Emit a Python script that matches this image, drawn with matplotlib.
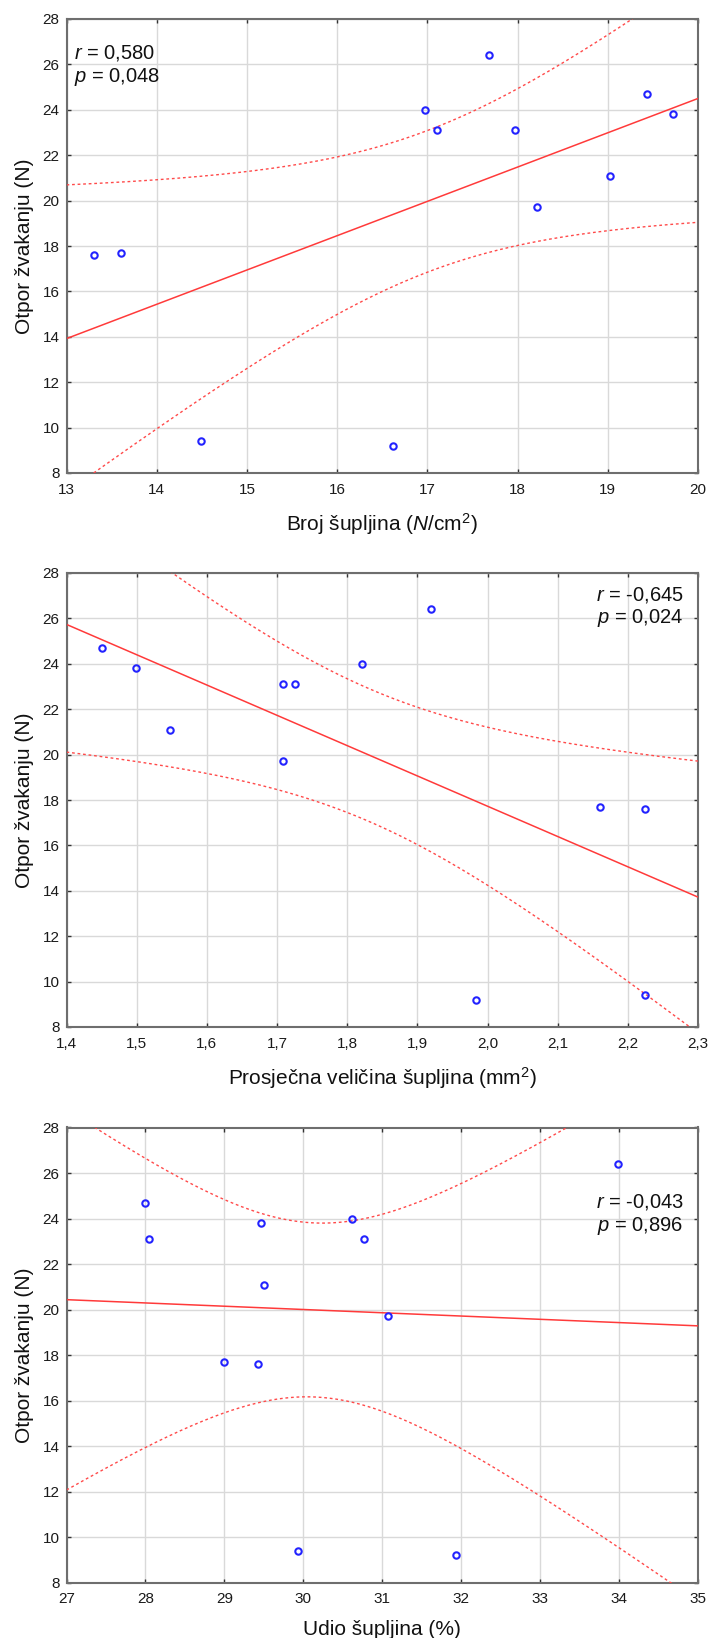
import numpy as np
import matplotlib
matplotlib.use("Agg")
import matplotlib.pyplot as plt
from matplotlib.ticker import FuncFormatter, MultipleLocator

plt.rcParams['font.family'] = ['Liberation Sans', 'DejaVu Sans']
plt.rcParams['mathtext.fontset'] = 'custom'
plt.rcParams['mathtext.rm'] = 'Liberation Sans'
plt.rcParams['mathtext.it'] = 'Liberation Sans:italic'

# ---- data ----
otpor = [17.6, 17.7, 9.4, 9.2, 24.0, 23.1, 26.4, 23.1, 19.7, 21.1, 24.7, 23.8]
broj = [13.30, 13.60, 14.49, 16.62, 16.97, 17.11, 17.68, 17.97, 18.22, 19.03, 19.43, 19.72]
velicina = [2.225, 2.160, 2.225, 1.983, 1.821, 1.708, 1.919, 1.725, 1.708, 1.547, 1.451, 1.499]
udio = [29.42, 28.99, 29.93, 31.94, 30.62, 28.04, 33.99, 30.77, 31.07, 29.50, 27.99, 29.46]

xlabels = ["Broj šupljina ($\\mathit{N}$/cm$^2$)",
           "Prosječna veličina šupljina (mm$^2$)",
           "Udio šupljina (%)"]
ylabel = "Otpor žvakanju (N)"
stats_r = ["0,580", "-0,645", "-0,043"]
stats_p = ["0,048", "0,024", "0,896"]
xlims = [(13, 20), (1.4, 2.3), (27, 35)]
xsteps = [1, 0.1, 1]
xdecimals = [0, 1, 0]
ylim = (8, 28)
t_crit = 2.228  # t(0.975, df=10)

fig = plt.figure(figsize=(7.08, 16.38), dpi=100)
positions = [
    (66.5, 19, 698, 473),
    (66.5, 573, 698, 1027),
    (66.5, 1127.5, 698, 1582.7),
]
W, H = 708, 1638
ann = [
    dict(x=0.012, y1=0.912, y2=0.862, ha='left'),
    dict(x=0.977, y1=0.9405, y2=0.889, ha='right'),
    dict(x=0.977, y1=0.824, y2=0.7725, ha='right'),
]
xs_all = [broj, velicina, udio]

for i in range(3):
    l, t, r, b = positions[i]
    ax = fig.add_axes([l / W, 1 - b / H, (r - l) / W, (b - t) / H])
    x = np.array(xs_all[i])
    y = np.array(otpor)
    n = len(x)
    slope, icpt = np.polyfit(x, y, 1)
    xg = np.linspace(xlims[i][0], xlims[i][1], 300)
    yhat = icpt + slope * xg
    resid = y - (icpt + slope * x)
    s = np.sqrt(np.sum(resid ** 2) / (n - 2))
    sxx = np.sum((x - x.mean()) ** 2)
    half = t_crit * s * np.sqrt(1 / n + (xg - x.mean()) ** 2 / sxx)

    ax.plot(xg, yhat, color='#ff3a3a', lw=1.1, zorder=3)
    ax.plot(xg, yhat + half, color='#ff4a4a', lw=1.0, ls=(0, (2, 2)), zorder=3)
    ax.plot(xg, yhat - half, color='#ff4a4a', lw=1.0, ls=(0, (2, 2)), zorder=3)
    ax.plot(x, y, 'o', mfc='none', mec='#2323ff', mew=1.5, ms=4.6, zorder=4)

    ax.set_xlim(*xlims[i])
    ax.set_ylim(*ylim)
    ax.xaxis.set_major_locator(MultipleLocator(xsteps[i]))
    ax.yaxis.set_major_locator(MultipleLocator(2))
    dec = xdecimals[i]
    ax.xaxis.set_major_formatter(FuncFormatter(lambda v, p, d=dec: f"{v:.{d}f}".replace('.', ',')))
    ax.yaxis.set_major_formatter(FuncFormatter(lambda v, p: f"{v:.0f}"))
    ax.grid(True, color='#d9d9d9', lw=1.0, zorder=0)
    ax.set_axisbelow(True)
    for sp in ax.spines.values():
        sp.set_color('#6e6e6e')
        sp.set_linewidth(1.5)
    ax.tick_params(axis='both', direction='in', length=3, width=1, color='#333333',
                   top=True, right=True, labelsize=11, labelcolor='#1a1a1a')
    ax.tick_params(axis='x', pad=7)
    ax.tick_params(axis='y', pad=5)
    ax.set_xlabel(xlabels[i], fontsize=15, labelpad=10, color='#111111')
    ax.set_ylabel(ylabel, fontsize=15, labelpad=6, color='#111111')

    a = ann[i]
    ax.text(a['x'], a['y1'], "$r$ = " + stats_r[i], transform=ax.transAxes,
            fontsize=14.5, ha=a['ha'], va='baseline', color='#111111', zorder=5)
    ax.text(a['x'], a['y2'], "$p$ = " + stats_p[i], transform=ax.transAxes,
            fontsize=14.5, ha=a['ha'], va='baseline', color='#111111', zorder=5)

fig.savefig("out.png", dpi=100, facecolor='white')
